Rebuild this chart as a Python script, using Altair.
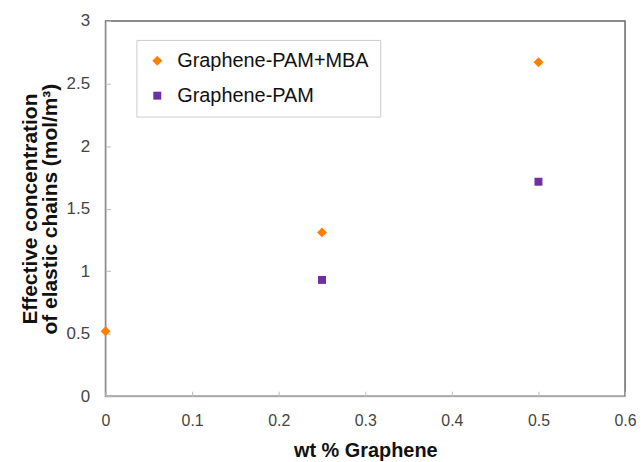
import altair as alt
import pandas as pd

series = ["Graphene-PAM+MBA", "Graphene-PAM"]
mba_x = [0.0, 0.25, 0.5]
mba_y = [0.52, 1.31, 2.67]
pam_x = [0.25, 0.5]
pam_y = [0.93, 1.715]

df = pd.DataFrame({
    "x": mba_x + pam_x,
    "y": mba_y + pam_y,
    "s": [series[0]] * len(mba_x) + [series[1]] * len(pam_x),
})

legend = alt.Legend(title=None, orient="none", legendX=31, legendY=19)

chart = alt.Chart(df).mark_point(filled=True, opacity=1).encode(
    x=alt.X("x:Q", title="wt % Graphene",
            scale=alt.Scale(domain=[0, 0.6], nice=False),
            axis=alt.Axis(values=[0, 0.1, 0.2, 0.3, 0.4, 0.5, 0.6], format="~g",
                          labelFlush=False, labelFontSize=16,
                          tickSize={"expr": "-5"}, labelPadding=21, titlePadding=13,
                          titleFontSize=20)),
    y=alt.Y("y:Q", title=["Effective concentration", "of elastic chains (mol/m³)"],
            scale=alt.Scale(domain=[0, 3], nice=False),
            axis=alt.Axis(values=[0, 0.5, 1, 1.5, 2, 2.5, 3], format="~g",
                          labelFlush=False,
                          tickSize={"expr": "-5"}, labelPadding=21, titlePadding=6,
                          titleFontSize=21, titleLineHeight=20)),
    color=alt.Color("s:N", scale=alt.Scale(domain=series, range=["#FF7F00", "#7030A0"]),
                    legend=legend),
    shape=alt.Shape("s:N", scale=alt.Scale(domain=series, range=["diamond", "square"]),
                    legend=legend),
    size=alt.Size("s:N", scale=alt.Scale(domain=series, range=[100, 64]), legend=None),
).properties(
    width=522, height=377,
    padding={"left": 11, "top": 3, "right": -1, "bottom": 0},
).configure_view(
    stroke="#666666", strokeWidth=1.5
).configure_axis(
    grid=False, domainColor="#BBBBBB", tickColor="#BBBBBB",
    labelFont="Arial", labelFontSize=17, labelColor="#444444",
    titleFont="Arial", titleFontWeight="bold", titleColor="#111111",
).configure_legend(
    labelFont="Arial", labelFontSize=20, labelColor="#111111", labelLimit=400,
    strokeColor="#CCCCCC", padding=11, rowPadding=15,
    symbolOffset=0, labelOffset=10, fillColor="white",
)

chart.save("out.html", embed_options={"renderer": "svg", "actions": False})
